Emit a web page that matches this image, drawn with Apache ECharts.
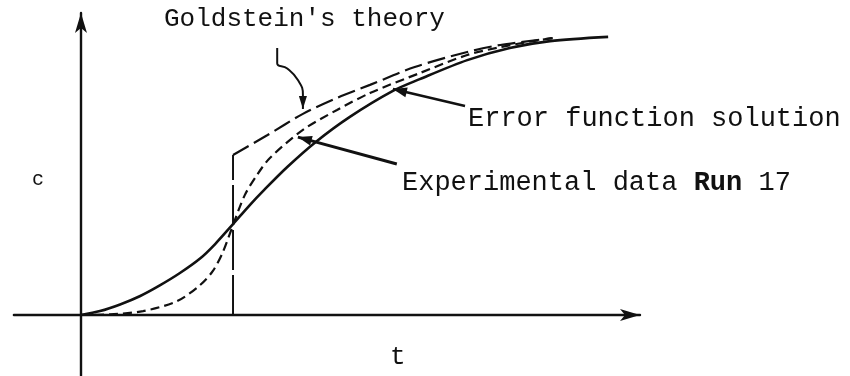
<!DOCTYPE html>
<html>
<head>
<meta charset="utf-8">
<script src="https://cdn.jsdelivr.net/npm/echarts@6/dist/echarts.min.js"></script>
<style>
  html, body { margin: 0; padding: 0; background: #fff; }
  #chart { width: 850px; height: 376px; }
</style>
</head>
<body>
<div id="chart"></div>
<script>
// Concentration c against time t (arbitrary units, axes from 0 to 100)
const erfSolution = [
  [0, 0], [3.4, 1.3], [7.0, 3.5], [10.6, 6.3], [14.1, 9.8], [17.7, 13.9],
  [21.3, 18.7], [24.0, 23.5], [27.2, 30.1], [30.2, 36.4], [32.6, 41.1],
  [36.9, 49.0], [42.0, 57.3], [48.1, 65.6], [55.8, 74.2], [60.6, 78.1],
  [69.1, 84.4], [76.7, 88.4], [83.9, 90.7], [94.3, 92.1]
];
const experimentalRun17 = [
  [0, 0], [5.2, 0.2], [11.1, 1.3], [17.2, 4.6], [21.3, 9.9], [23.6, 14.6],
  [25.4, 20.9], [27.2, 29.8], [29.3, 39.7], [31.5, 46.4], [33.8, 52.0],
  [39.7, 61.3], [45.8, 67.9], [51.7, 73.5], [60.6, 80.1], [69.1, 86.1],
  [75.0, 88.7], [80.9, 90.7], [84.4, 91.7]
];
const goldsteinStep = [[27.2, 0], [27.2, 53.0]];
const goldsteinCurve = [
  [27.2, 53.0], [33.3, 59.5], [39.7, 66.6], [45.8, 71.9], [51.7, 76.2],
  [59.7, 82.1], [69.1, 87.1], [75.0, 89.4], [84.4, 91.7]
];

// Pointer lines from the labels to the curves (data units; last point is the tip)
const goldsteinPointer = [[35.1, 88.4], [35.1, 83.4], [36.9, 81.6], [38.8, 77.8], [39.7, 73.0], [39.7, 68.2]];
const erfPointer = [[68.7, 69.2], [55.8, 74.8]];
const experimentalPointer = [[56.5, 50.0], [38.8, 58.9]];

const labelFont = '"Liberation Mono", "DejaVu Sans Mono", monospace';
const ink = '#111';

const chart = echarts.init(document.getElementById('chart'), null, { renderer: 'canvas' });

chart.setOption({
  animation: false,
  backgroundColor: '#fff',
  grid: { left: 13.9, right: 210, top: 13, bottom: 0.6, containLabel: false },
  xAxis: {
    type: 'value', min: -12, max: 100,
    axisLine: { onZero: true, symbol: ['none', 'arrow'], symbolSize: [9, 20],
      lineStyle: { color: ink, width: 2.4 } },
    axisTick: { show: false }, axisLabel: { show: false }, splitLine: { show: false }
  },
  yAxis: {
    type: 'value', min: -20, max: 100,
    axisLine: { onZero: true, symbol: ['none', 'arrow'], symbolSize: [9, 20],
      lineStyle: { color: ink, width: 2.4 } },
    axisTick: { show: false }, axisLabel: { show: false }, splitLine: { show: false }
  },
  series: [
    { name: 'Error function solution', type: 'line', data: erfSolution, smooth: 0.3,
      showSymbol: false, lineStyle: { color: ink, width: 2.6 } },
    { name: 'Experimental data Run 17', type: 'line', data: experimentalRun17, smooth: 0.3,
      showSymbol: false, lineStyle: { color: ink, width: 2.2, type: [9, 5] } },
    { name: "Goldstein's theory step", type: 'line', data: goldsteinStep,
      showSymbol: false, lineStyle: { color: ink, width: 2, type: [40, 5] } },
    { name: "Goldstein's theory", type: 'line', data: goldsteinCurve, smooth: 0.3,
      showSymbol: false, lineStyle: { color: ink, width: 2.2, type: [18, 6] } },
    { name: 'pointer-g', type: 'line', data: goldsteinPointer, smooth: 0.5,
      showSymbol: false, lineStyle: { color: ink, width: 2 } },
    { name: 'pointer-e', type: 'line', data: erfPointer,
      showSymbol: false, lineStyle: { color: ink, width: 2.6 } },
    { name: 'pointer-x', type: 'line', data: experimentalPointer,
      showSymbol: false, lineStyle: { color: ink, width: 3 } }
  ]
});

// Arrowheads at the tips of the pointer lines, placed through the axis scales
function arrowHead(points, len, half) {
  const a = chart.convertToPixel({ gridIndex: 0 }, points[points.length - 2]);
  const b = chart.convertToPixel({ gridIndex: 0 }, points[points.length - 1]);
  const dx = b[0] - a[0], dy = b[1] - a[1];
  const d = Math.hypot(dx, dy) || 1;
  const ux = dx / d, uy = dy / d;
  const bx = b[0] - ux * len, by = b[1] - uy * len;
  return {
    type: 'polygon',
    shape: { points: [b, [bx - uy * half, by + ux * half], [bx + uy * half, by - ux * half]] },
    style: { fill: ink }
  };
}

function text(str, x, y, size) {
  return {
    type: 'text', x: x, y: y,
    style: { text: str, font: size + 'px ' + labelFont, fill: ink,
      textVerticalAlign: 'middle', textAlign: 'left' }
  };
}

chart.setOption({
  graphic: [
    arrowHead(goldsteinPointer, 13, 4),
    arrowHead(erfPointer, 14, 5),
    arrowHead(experimentalPointer, 14, 5),
    text("Goldstein's theory", 164, 19, 26),
    text('Error function solution', 468, 119, 27),
    {
      type: 'text', x: 402, y: 183,
      style: {
        text: 'Experimental data {b|Run} 17',
        font: '27px ' + labelFont, fill: ink, textVerticalAlign: 'middle',
        rich: { b: { font: 'bold 27px ' + labelFont, fill: ink } }
      }
    },
    text('c', 32, 180, 20),
    text('t', 390, 357, 26)
  ]
});
</script>
</body>
</html>
